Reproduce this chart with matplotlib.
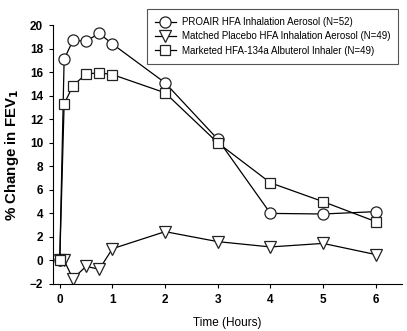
import numpy as np
import matplotlib.pyplot as plt

plt.rcParams['font.family'] = ['Liberation Sans', 'DejaVu Sans']

hours = [0, 0.083, 0.25, 0.5, 0.75, 1, 2, 3, 4, 5, 6]
proair = [0, 17.1, 18.7, 18.65, 19.3, 18.4, 15.1, 10.3, 4.0, 3.95, 4.15]
placebo = [0, 0.0, -1.55, -0.5, -0.75, 1.0, 2.45, 1.6, 1.15, 1.45, 0.5]
marketed = [0, 13.3, 14.85, 15.85, 15.95, 15.8, 14.25, 10.0, 6.6, 5.0, 3.3]

labels = ["PROAIR HFA Inhalation Aerosol (N=52)",
          "Matched Placebo HFA Inhalation Aerosol (N=49)",
          "Marketed HFA-134a Albuterol Inhaler (N=49)"]

fig = plt.figure(figsize=(4.07, 3.31), dpi=100)
ax = fig.add_axes([0.130, 0.142, 0.858, 0.782])

style = dict(color='black', lw=0.9, mfc='white', mec='#222222', mew=0.9)
ax.plot(hours, proair, marker='o', ms=8, label=labels[0], **style)
ax.plot(hours, placebo, marker='v', ms=8.5, label=labels[1], **style)
ax.plot(hours, marketed, marker='s', ms=7.5, label=labels[2], **style)

ax.set_xlim(-0.13, 6.5)
ax.set_ylim(-2, 20)
ax.set_xticks(range(0, 7))
ax.set_yticks(range(-2, 21, 2))
for s in ['top', 'right']:
    ax.spines[s].set_visible(False)
ax.spines['left'].set_linewidth(0.8)
ax.spines['bottom'].set_linewidth(0.8)
ax.tick_params(direction='out', length=3, width=0.8, labelsize=8.5, pad=4)
for t in ax.get_xticklabels() + ax.get_yticklabels():
    t.set_fontweight('bold')

ax.set_xlabel("Time (Hours)", fontsize=8.5, labelpad=8)
ax.set_ylabel("% Change in FEV$_\\mathbf{1}$", fontsize=10.8, fontweight='bold', labelpad=6)

leg = ax.legend(loc='upper right', bbox_to_anchor=(0.989, 1.062), borderaxespad=0,
                fontsize=7.0, fancybox=False, edgecolor='#555555', framealpha=1,
                handlelength=2.1, borderpad=0.85, labelspacing=0.42, handletextpad=0.6)
leg.get_frame().set_linewidth(0.8)

fig.savefig('out.png', dpi=100)
